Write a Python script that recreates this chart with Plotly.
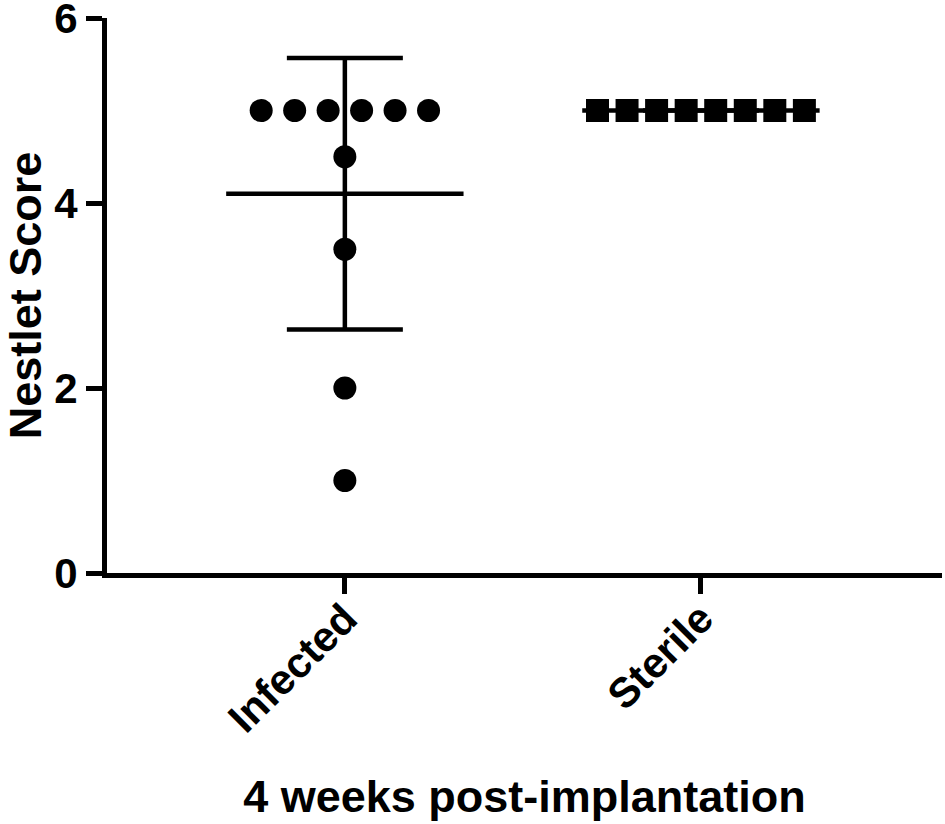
import plotly.graph_objects as go
import numpy as np

# --- data ---
groups = ["Infected", "Sterile"]
infected = [5, 5, 5, 5, 5, 5, 4.5, 3.5, 2, 1]
sterile = [5, 5, 5, 5, 5, 5, 5, 5]
x_title = "4 weeks post-implantation"
y_title = "Nestlet Score"
y_ticks = [0, 2, 4, 6]

FONT = "Arial, Liberation Sans, sans-serif"


def spread(vals, step):
    # spread tied values side by side, centred on the group
    vals = np.asarray(vals, dtype=float)
    off = np.zeros(len(vals))
    for v in np.unique(vals):
        idx = np.where(vals == v)[0]
        off[idx] = (np.arange(len(idx)) - (len(idx) - 1) / 2) * step
    return off


fig = go.Figure()

series = [(infected, "circle", 0.094), (sterile, "square", 0.083)]
for pos, (vals, sym, step) in enumerate(series):
    m = float(np.mean(vals))
    sd = float(np.std(vals, ddof=1))
    # mean line
    fig.add_trace(go.Scatter(
        x=[pos - 1 / 3, pos + 1 / 3], y=[m, m], mode="lines",
        line=dict(color="black", width=4.5), hoverinfo="skip"))
    # SD whiskers
    fig.add_trace(go.Scatter(
        x=[pos], y=[m], mode="markers",
        marker=dict(size=1, color="rgba(0,0,0,0)"),
        error_y=dict(type="data", array=[sd], visible=True,
                     color="black", thickness=4.5, width=58)))
    # points
    fig.add_trace(go.Scatter(
        x=pos + spread(vals, step), y=vals, mode="markers",
        marker=dict(symbol=sym, size=23, color="black", line=dict(width=0))))

axis_font = dict(family=FONT, size=42, color="black", weight="bold")
title_font = dict(family=FONT, size=45, color="black", weight="bold")

fig.update_layout(
    width=945, height=824,
    margin=dict(l=107, r=3, t=18, b=251),
    paper_bgcolor="white", plot_bgcolor="white",
    showlegend=False,
    xaxis=dict(
        range=[-0.668, 1.677], automargin=False,
        tickvals=[0, 1], ticktext=groups, tickangle=-45,
        ticklabelstandoff=-17,
        showline=True, linewidth=5, linecolor="black",
        ticks="outside", ticklen=16, tickwidth=5, tickcolor="black",
        showgrid=False, zeroline=False, tickfont=axis_font,
        title=dict(text=x_title, font=title_font, standoff=42),
    ),
    yaxis=dict(
        range=[0, 6], tickvals=y_ticks, automargin=False,
        ticklabeloverflow="allow",
        showline=True, linewidth=5, linecolor="black",
        ticks="outside", ticklen=16, tickwidth=5, tickcolor="black",
        showgrid=False, zeroline=False, tickfont=axis_font,
        title=dict(text=y_title, font=title_font, standoff=4),
    ),
)

# drop the page's default body margin so the figure sits at the window corner
fig.write_html("out.html", config={"displayModeBar": False},
               post_script="document.body.style.margin='0';")
